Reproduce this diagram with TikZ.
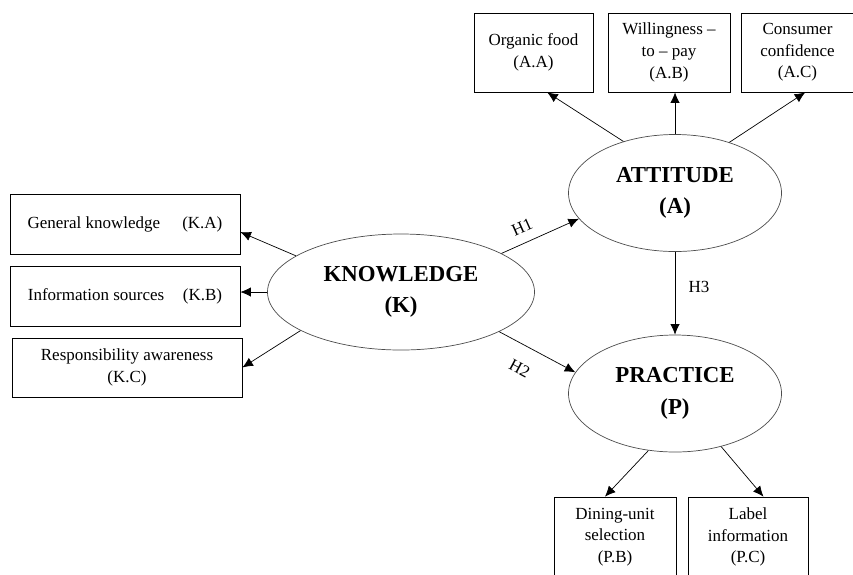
\documentclass[tikz,border=0pt]{standalone}
\usepackage{fontspec}
\setmainfont{Liberation Serif}
\usetikzlibrary{shapes.geometric, arrows.meta}
\tikzset{
	box/.style={draw, line width=0.6pt, align=center, inner sep=0pt, font=\fontsize{14.5}{18.5}\selectfont},
	construct/.style={draw=black!70, ellipse, line width=0.6pt, align=center, inner sep=0pt, font=\fontsize{19.5}{27}\selectfont\bfseries},
	link/.style={-{Latex[length=9pt, width=8pt]}, line width=0.6pt},
	hyp/.style={font=\fontsize{14.5}{17}\selectfont}
}

\begin{document}
\begin{tikzpicture}[x=0.03cm, y=-0.03cm]
		\clip (0,0) rectangle (853,574);
		% constructs
		\node [construct, minimum width=8.01cm, minimum height=3.48cm](Knowledge) at (401,292) {KNOWLEDGE\\(K)};
		\node [construct, minimum width=6.39cm, minimum height=3.51cm](Attitude) at (675,193) {ATTITUDE\\(A)};
		\node [construct, minimum width=6.39cm, minimum height=3.51cm](Practice) at (675,393.5) {PRACTICE\\(P)};
		% attitude items
		\node [box, minimum width=3.57cm, minimum height=2.37cm](Organic) at (533.5,52.5) {Organic food\\(A.A)};
		\node [box, minimum width=3.66cm, minimum height=2.37cm](Willingness) at (669,52.5) {Willingness --\\to -- pay\\(A.B)};
		\node [box, minimum width=3.36cm, minimum height=2.37cm](Confidence) at (797.5,52.5) {Consumer\\confidence\\(A.C)};
		% knowledge items
		\node [box, minimum width=6.9cm, minimum height=1.8cm](General) at (125,224) {General knowledge\hspace{1.3em}(K.A)};
		\node [box, minimum width=6.9cm, minimum height=1.8cm](Sources) at (125,296.5) {Information sources\hspace{1.1em}(K.B)};
		\node [box, minimum width=6.9cm, minimum height=1.77cm](Awareness) at (127,367.5) {Responsibility awareness\\(K.C)};
		% practice items
		\node [box, minimum width=3.66cm, minimum height=2.4cm](Dining) at (615,537) {Dining-unit\\selection\\(P.B)};
		\node [box, minimum width=3.6cm, minimum height=2.4cm](Label) at (748,537) {Label\\information\\(P.C)};
		% arrows
		\draw [link](Attitude.135)--(Organic.-71);
		\draw [link](Attitude.north)--(Attitude.north |- Willingness.south);
		\draw [link](Attitude.43)--(Confidence.-79);
		\draw [link](Knowledge.161)--(General.-4);
		\draw [link](Knowledge.west)--(Knowledge.west -| Sources.east);
		\draw [link](Knowledge.201)--(Awareness.east);
		\draw [link](Practice.-115)--(Dining.104);
		\draw [link](Practice.-49)--(Label.69);
		\draw [link](Knowledge.21)--node[hyp, pos=0.35, sloped, above=5pt](H1){H1}(Attitude.195);
		\draw [link](Knowledge.-22)--node[hyp, pos=0.41, sloped, below=11pt](H2){H2}(Practice.168);
		\draw [link](Attitude.south)--node[hyp, pos=0.42, right=8pt](H3){H3}(Practice.north);
	\end{tikzpicture}
\end{document}
